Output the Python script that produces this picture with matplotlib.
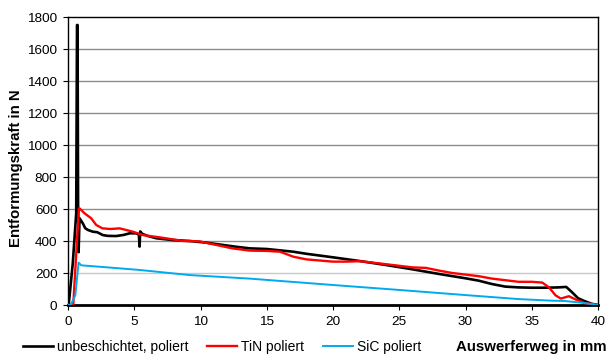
import numpy as np
import matplotlib
matplotlib.use('Agg')
import matplotlib.pyplot as plt

plt.rcParams['font.family'] = ['Liberation Sans', 'DejaVu Sans']

# series (x in mm, force in N)
unb_x = [0.0, 0.05, 0.36, 0.62, 0.68, 0.72, 0.76, 0.80, 0.87, 1.12, 1.3, 1.5, 1.88, 2.2,
         2.63, 3.0, 3.64, 4.2, 4.65, 5.15, 5.35, 5.40, 5.45, 5.6, 6.0, 6.67, 7.9, 9.2,
         10.4, 11.7, 12.7, 13.7, 15.0, 17.0, 18.0, 20.0, 22.0, 24.0, 26.0, 28.0, 30.0,
         31.0, 32.0, 33.0, 34.0, 35.0, 36.0, 37.0, 37.6, 38.0, 38.5, 39.0, 39.5, 40.0]
unb_y = [0, 0, 260, 573, 1750, 1750, 650, 330, 542, 510, 480, 469, 458, 455,
         437, 432, 431, 438, 448, 448, 440, 365, 460, 445, 432, 417, 406, 400,
         390, 375, 364, 354, 350, 333, 320, 298, 275, 250, 223, 194, 167,
         152, 131, 115, 110, 108, 108, 110, 113, 83, 42, 24, 8, 0]

tin_x = [0.0, 0.4, 0.82, 0.87, 1.25, 1.75, 2.13, 2.6, 3.2, 3.9, 4.9, 5.65, 6.9, 8.7,
         9.9, 11.2, 12.4, 13.7, 15.0, 16.0, 17.0, 18.0, 20.0, 21.0, 22.0, 24.0, 26.0,
         27.0, 28.0, 29.0, 30.0, 31.0, 32.0, 33.0, 34.0, 35.0, 35.8, 36.3, 36.8, 37.2,
         37.8, 38.3, 39.0, 40.0]
tin_y = [0, 5, 604, 604, 573, 542, 500, 479, 475, 479, 458, 437, 423, 400,
         398, 375, 354, 340, 338, 333, 302, 285, 271, 271, 274, 255, 235,
         232, 215, 200, 190, 180, 165, 155, 145, 145, 140, 110, 60, 40,
         55, 35, 12, 0]

sic_x = [0.0, 0.2, 0.55, 0.8, 1.0, 1.62, 3.0, 5.4, 9.2, 13.7, 20.0, 25.0, 30.0,
         34.0, 36.5, 37.5, 39.0, 40.0]
sic_y = [0, 0, 60, 265, 248, 244, 235, 219, 187, 165, 125, 94, 62,
         37, 27, 25, 12, 0]

labels = ['unbeschichtet, poliert', 'TiN poliert', 'SiC poliert']
colors = ['black', '#ff0000', '#00aaee']

fig = plt.figure(figsize=(6.08, 3.56), dpi=100)
ax = fig.add_axes([68/608, 51/356, 530/608, 288/356])

for yv in range(200, 1800, 200):
    ax.axhline(yv, color='#c8c8c8' if yv == 200 else '#8c8c8c', lw=1.0, zorder=1)

h1, = ax.plot(unb_x, unb_y, color=colors[0], lw=1.9, zorder=3)
h2, = ax.plot(tin_x, tin_y, color=colors[1], lw=1.7, zorder=4)
h3, = ax.plot(sic_x, sic_y, color=colors[2], lw=1.4, zorder=5)

ax.set_xlim(0, 40)
ax.set_ylim(0, 1800)
ax.set_xticks(range(0, 41, 5))
ax.set_yticks(range(0, 1801, 200))
ax.tick_params(axis='both', labelsize=9.7, direction='out', length=3.6, width=0.8, pad=4)
for s in ['top', 'right', 'left']:
    ax.spines[s].set_color('black')
    ax.spines[s].set_linewidth(1.0)
ax.spines['bottom'].set_linewidth(2.0)

fig.text(16/608, 1 - 168/356, 'Entformungskraft in N', fontsize=10.8, fontweight='bold',
         rotation=90, ha='center', va='center')
fig.text(606/608, 1 - 347/356, 'Auswerferweg in mm', fontsize=10.8, fontweight='bold',
         ha='right', va='center')

fig.legend([h1, h2, h3], labels, loc='center left', bbox_to_anchor=(23/608, 1 - 347/356),
           ncol=3, frameon=False, fontsize=10, handlelength=2.15, handletextpad=0.3,
           columnspacing=1.35, borderaxespad=0, borderpad=0)

fig.savefig('out.png', dpi=100)
